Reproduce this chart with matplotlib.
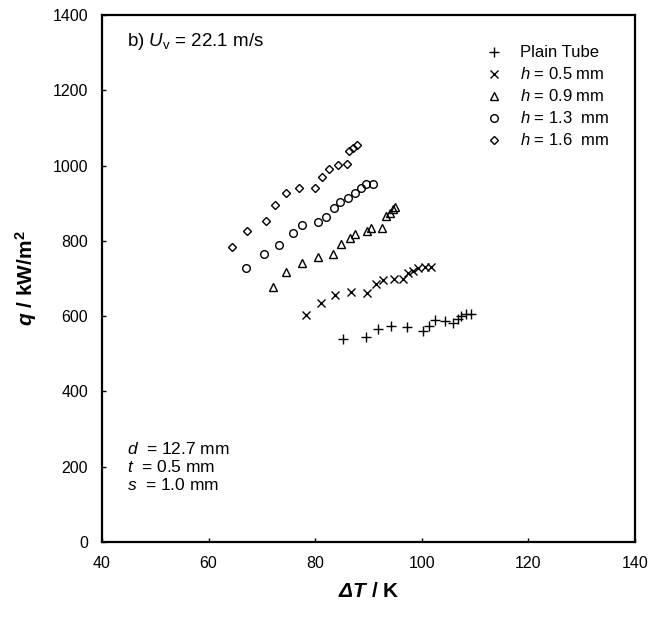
import matplotlib

matplotlib.use('Agg')
import matplotlib.pyplot as plt

plt.rcParams['font.family'] = ['Liberation Sans', 'DejaVu Sans']
plt.rcParams['mathtext.fontset'] = 'custom'
plt.rcParams['mathtext.rm'] = 'Liberation Sans'
plt.rcParams['mathtext.it'] = 'Liberation Sans:italic'
plt.rcParams['mathtext.bf'] = 'Liberation Sans:bold'
plt.rcParams['mathtext.bfit'] = 'Liberation Sans:italic:bold'

# plain tube
plain_dT = [85.3, 89.5, 91.8, 94.3, 97.3, 100.2, 101.4, 102.5, 104.4, 105.8, 106.7, 107.3, 108.2, 109.2]
plain_q = [539, 545, 566, 574, 572, 561, 574, 590, 588, 583, 592, 600, 606, 605]

# h = 0.5 mm
h05_dT = [78.3, 81.1, 83.7, 86.8, 89.8, 91.4, 92.8, 94.7, 96.5, 97.5, 98.4, 99.3, 100.6, 101.8]
h05_q = [603, 634, 656, 665, 662, 685, 696, 700, 698, 714, 720, 727, 731, 731]

# h = 0.9 mm
h09_dT = [72.0, 74.6, 77.6, 80.5, 83.3, 84.8, 86.5, 87.5, 89.8, 90.5, 92.5, 93.2, 94.0, 94.6, 95.0]
h09_q = [678, 716, 740, 756, 764, 792, 808, 818, 826, 835, 833, 865, 875, 885, 890]

# h = 1.3 mm
h13_dT = [67.1, 70.4, 73.3, 75.8, 77.5, 80.5, 82.0, 83.5, 84.7, 86.2, 87.5, 88.5, 89.5, 90.8]
h13_q = [727, 765, 789, 820, 842, 851, 864, 888, 904, 913, 928, 940, 950, 950]

# h = 1.6 mm
h16_dT = [64.3, 67.2, 70.8, 72.5, 74.5, 77.0, 80.0, 81.3, 82.6, 84.3, 85.9, 86.3, 87.0, 87.8]
h16_q = [783, 826, 853, 894, 928, 941, 941, 969, 991, 1002, 1003, 1039, 1048, 1055]

series = [
    (plain_dT, plain_q, '+', 'Plain Tube'),
    (h05_dT, h05_q, 'x', r'$\mathit{h}$ = 0.5 mm'),
    (h09_dT, h09_q, '^', r'$\mathit{h}$ = 0.9 mm'),
    (h13_dT, h13_q, 'o', r'$\mathit{h}$ = 1.3  mm'),
    (h16_dT, h16_q, 'D', r'$\mathit{h}$ = 1.6  mm'),
]
sizes = {'+': 7, 'x': 6, '^': 5.5, 'o': 5.5, 'D': 4.2}

fig = plt.figure(figsize=(6.58, 6.18), dpi=100)
ax = fig.add_axes([102 / 658, 1 - 542 / 618, 533 / 658, 527 / 618])

for dT, q, m, lab in series:
    ax.plot(dT, q, linestyle='none', marker=m, markersize=sizes[m],
            markerfacecolor='none', markeredgecolor='black', markeredgewidth=1.0,
            label=lab)

ax.set_xlim(40, 140)
ax.set_ylim(0, 1400)
ax.set_xticks(range(40, 141, 20))
ax.set_yticks(range(0, 1401, 200))
ax.tick_params(direction='in', length=3, width=1, labelsize=11.5, pad=10)
for sp in ax.spines.values():
    sp.set_linewidth(1.6)

ax.set_xlabel(r'$\mathbfit{\Delta T}$ $\mathbf{/\ K}$', fontsize=15, labelpad=8)
ax.set_ylabel(r'$\mathbfit{q}$ $\mathbf{/\ kW/m^2}$', fontsize=15, labelpad=10)

ax.text(0.047, 0.95, r'b) $\mathit{U}_{\rm v}$ = 22.1 m/s', transform=ax.transAxes,
        fontsize=13.5, va='center', ha='left')

ax.text(0.047, 0.143, r'$\mathit{d}$  = 12.7 mm' + '\n' + r'$\mathit{t}$  = 0.5 mm' + '\n'
        + r'$\mathit{s}$  = 1.0 mm', transform=ax.transAxes, fontsize=12.5,
        va='center', ha='left', linespacing=1.15)

ax.legend(loc='upper left', bbox_to_anchor=(0.707, 0.955), frameon=False,
          fontsize=12, handlelength=1.0, handletextpad=1.1, labelspacing=0.36,
          borderaxespad=0.0)

fig.savefig('out.png', dpi=100)
